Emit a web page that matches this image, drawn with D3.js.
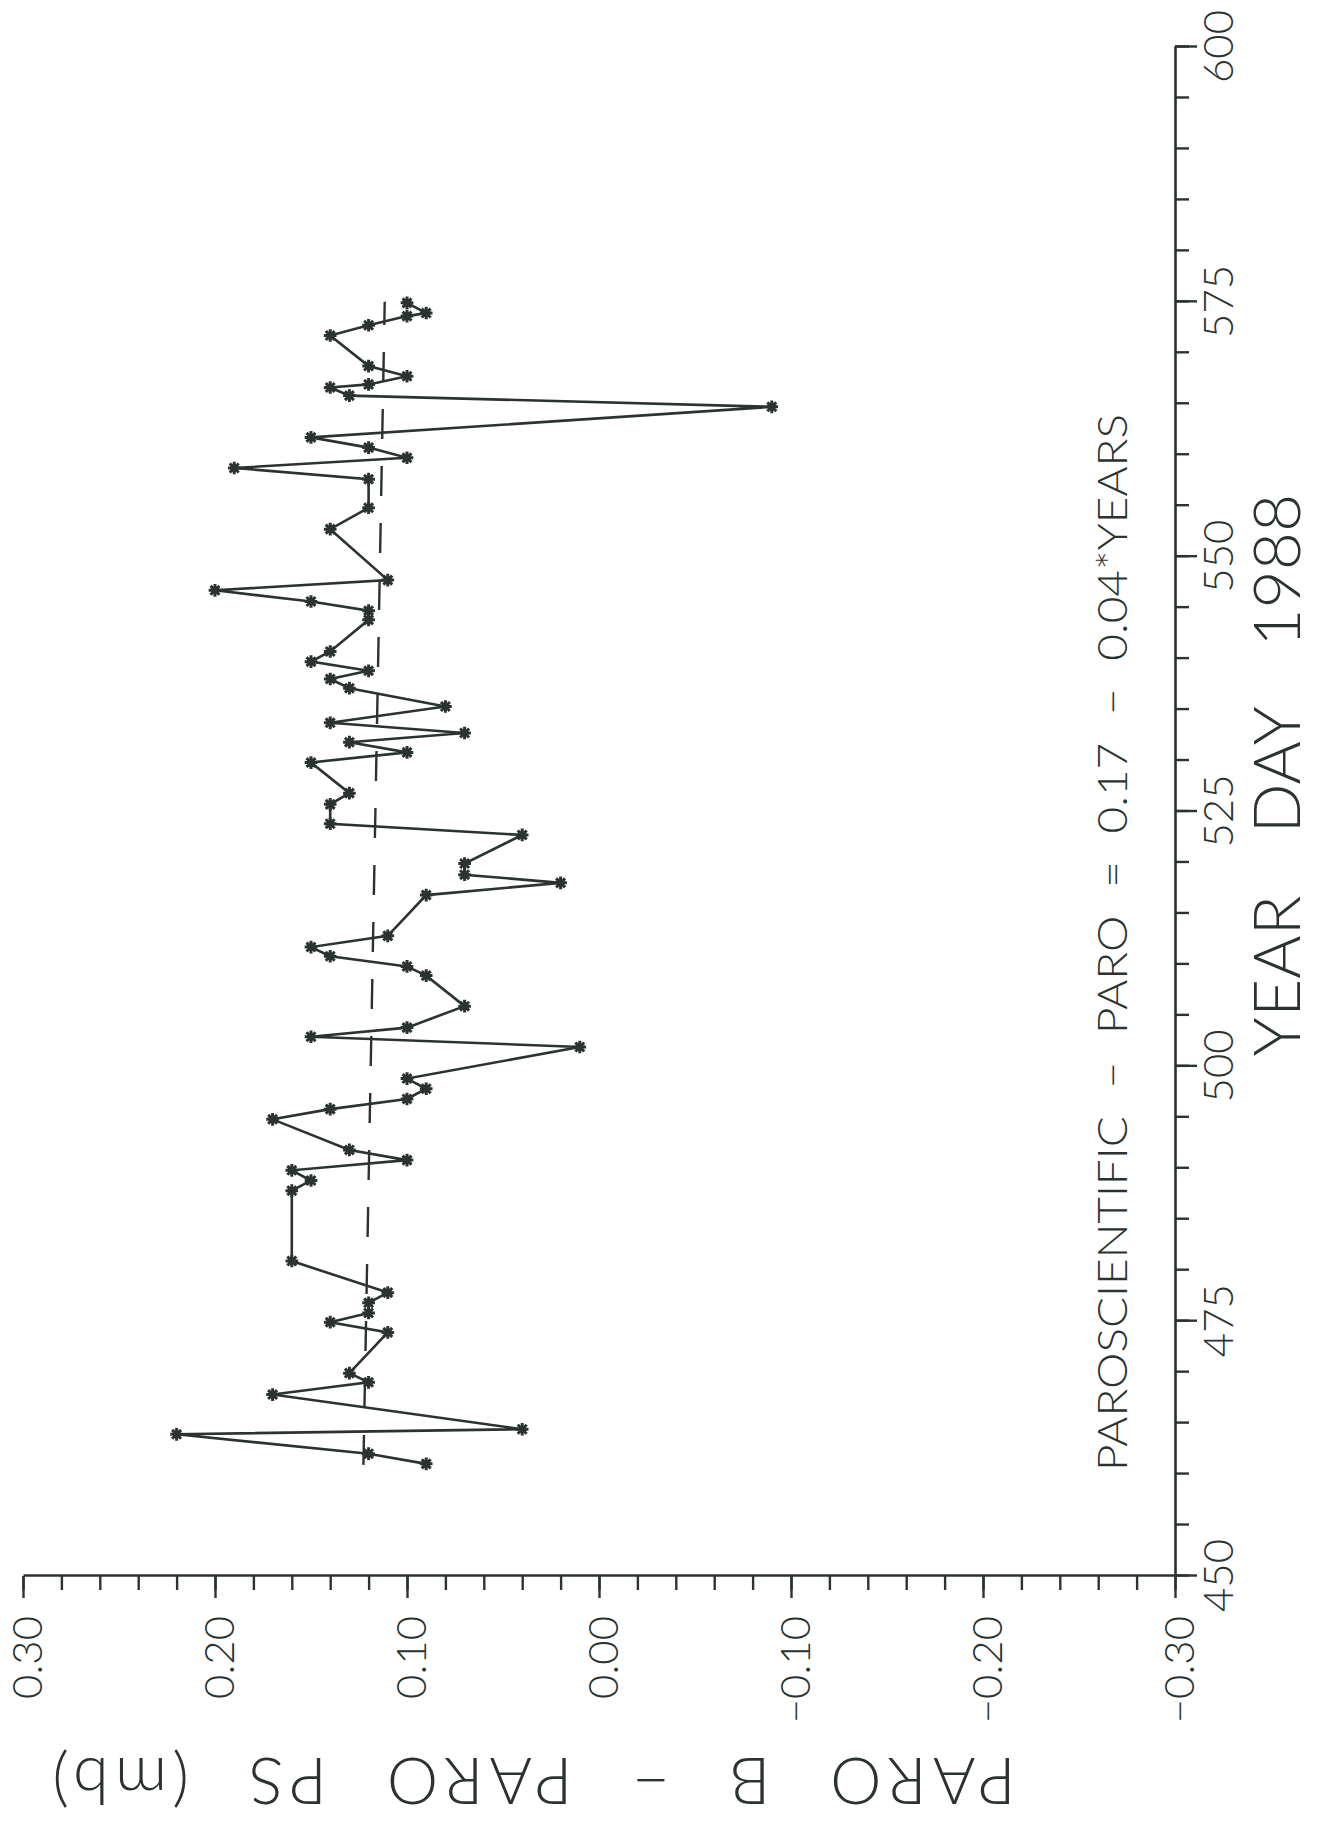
<!DOCTYPE html>
<html>
<head>
<meta charset="utf-8">
<script src="https://cdn.jsdelivr.net/npm/d3@7"></script>
<style>
  html, body { margin: 0; padding: 0; background: #ffffff; }
  svg { display: block; }
  text { font-family: Lato, "DejaVu Sans", sans-serif; font-weight: 300; fill: #2b3331; }
</style>
</head>
<body>
<svg id="chart" width="1323" height="1824"></svg>
<script>
// ---- data ----
const yearDays = [
  461.0, 462.0, 463.9, 464.4, 467.8, 469.0, 469.9, 473.9, 474.9, 475.8,
  476.8, 477.8, 480.9, 487.8, 488.8, 489.8, 490.8, 491.8, 494.8, 495.8,
  496.8, 497.8, 498.8, 501.9, 502.9, 503.8, 505.9, 508.9, 509.8, 510.8,
  511.7, 512.8, 516.8, 518.0, 518.8, 519.9, 522.7, 523.8, 525.7, 526.8,
  529.8, 530.8, 531.8, 532.7, 533.7, 535.3, 537.1, 538.0, 538.8, 539.7,
  540.7, 543.8, 544.7, 545.6, 546.7, 547.7, 552.7, 554.8, 557.6, 558.7,
  559.7, 560.7, 561.7, 564.7, 565.8, 566.6, 566.9, 567.7, 568.7, 571.7,
  572.7, 573.6, 573.9, 574.9
];
const paroDiff = [
  0.09, 0.12, 0.22, 0.04, 0.17, 0.12, 0.13, 0.11, 0.14, 0.12,
  0.12, 0.11, 0.16, 0.16, 0.15, 0.16, 0.10, 0.13, 0.17, 0.14,
  0.10, 0.09, 0.10, 0.01, 0.15, 0.10, 0.07, 0.09, 0.10, 0.14,
  0.15, 0.11, 0.09, 0.02, 0.07, 0.07, 0.04, 0.14, 0.14, 0.13,
  0.15, 0.10, 0.13, 0.07, 0.14, 0.08, 0.13, 0.14, 0.12, 0.15,
  0.14, 0.12, 0.12, 0.15, 0.20, 0.11, 0.14, 0.12, 0.12, 0.19,
  0.10, 0.12, 0.15, -0.09, 0.13, 0.14, 0.12, 0.10, 0.12, 0.14,
  0.12, 0.10, 0.09, 0.10
];
// fitted line PAROSCIENTIFIC - PARO = 0.17 - 0.04*YEARS (end points)
const fitDays = [460.9, 575.0];
const fitValues = [0.1227, 0.1116];

const dayTickValues = [450, 475, 500, 525, 550, 575, 600];
const dayTickLabels = ["450", "475", "500", "525", "550", "575", "600"];
const valueTickValues = [-0.30, -0.20, -0.10, 0.00, 0.10, 0.20, 0.30];
const valueTickLabels = ["\u22120.30", "\u22120.20", "\u22120.10", "0.00", "0.10", "0.20", "0.30"];

const xTitle = "YEAR DAY 1988";
const yTitle = "PARO B \u2212 PARO PS (mb)";
const note = "PAROSCIENTIFIC \u2212 PARO = 0.17 \u2212 0.04*YEARS";

// ---- layout (chart is drawn unrotated, then turned 90° counter-clockwise) ----
const INK = "#2b3331";
const tx = 23, ty = 1576;       // screen position of (day 450, value +0.30)
const L = 1529;                  // length of day axis
const H = 1152;                  // length of value axis

const svg = d3.select("#chart");
svg.append("rect").attr("width", 1323).attr("height", 1824).attr("fill", "#ffffff");

const g = svg.append("g").attr("transform", `translate(${tx},${ty}) rotate(-90)`);

const x = d3.scaleLinear().domain([450, 600]).range([0, L]);
const y = d3.scaleLinear().domain([-0.30, 0.30]).range([H, 0]);

function styleAxis(sel) {
  sel.select(".domain").attr("stroke", INK).attr("stroke-width", 2.6);
  sel.selectAll(".tick line").attr("stroke", INK).attr("stroke-width", 2.4);
  sel.selectAll(".tick text").attr("fill", INK)
    .attr("font-family", 'Lato, "DejaVu Sans", sans-serif')
    .attr("font-weight", 300).attr("font-size", 42);
}

// value axis: minor ticks every 0.02
g.append("g")
  .call(d3.axisLeft(y).tickValues(d3.range(-30, 31, 2).map(d => d / 100)).tickSize(14).tickSizeOuter(0).tickFormat(""))
  .call(s => { s.select(".domain").remove(); s.selectAll(".tick line").attr("stroke", INK).attr("stroke-width", 2.4); });
// value axis: major ticks
g.append("g")
  .call(d3.axisLeft(y).tickValues(valueTickValues).tickSize(22).tickPadding(18).tickSizeOuter(0)
    .tickFormat((d, i) => valueTickLabels[i]))
  .call(styleAxis)
  .call(s => s.selectAll(".tick text").attr("dy", "0.45em"));

// day axis: minor ticks every 5 days
g.append("g").attr("transform", `translate(0,${H})`)
  .call(d3.axisBottom(x).tickValues(d3.range(450, 601, 5)).tickSize(14).tickSizeOuter(0).tickFormat(""))
  .call(s => { s.select(".domain").remove(); s.selectAll(".tick line").attr("stroke", INK).attr("stroke-width", 2.4); });
g.append("g").attr("transform", `translate(0,${H})`)
  .call(d3.axisBottom(x).tickValues(dayTickValues).tickSize(22).tickPadding(6).tickSizeOuter(0)
    .tickFormat((d, i) => dayTickLabels[i]))
  .call(styleAxis);

// fitted dashed line
const fit = fitDays.map((d, i) => ({ day: d, v: fitValues[i] }));
const line = d3.line().x(d => x(d.day)).y(d => y(d.v));
g.append("path").datum(fit)
  .attr("d", line)
  .attr("fill", "none").attr("stroke", INK).attr("stroke-width", 2.4)
  .attr("stroke-dasharray", "30,27");

// data series
const data = yearDays.map((d, i) => ({ day: d, v: paroDiff[i] }));
g.append("path").datum(data)
  .attr("d", line)
  .attr("fill", "none").attr("stroke", INK).attr("stroke-width", 2.6)
  .attr("stroke-linejoin", "miter");

const asterisk8 = {
  draw(ctx, size) {
    const r = Math.sqrt(size) / 2, d = r * Math.SQRT1_2;
    ctx.moveTo(-r, 0); ctx.lineTo(r, 0);
    ctx.moveTo(0, -r); ctx.lineTo(0, r);
    ctx.moveTo(-d, -d); ctx.lineTo(d, d);
    ctx.moveTo(-d, d); ctx.lineTo(d, -d);
  }
};
g.append("g").selectAll("path").data(data).join("path")
  .attr("transform", d => `translate(${x(d.day)},${y(d.v)})`)
  .attr("d", d3.symbol(asterisk8, 160)())
  .attr("fill", "none").attr("stroke", INK).attr("stroke-width", 3);

// annotation
g.append("text")
  .attr("x", 105).attr("y", 1104)
  .attr("font-size", 42)
  .attr("word-spacing", 14)
  .attr("textLength", 1057).attr("lengthAdjust", "spacingAndGlyphs")
  .text(note);

// day axis title
g.append("text")
  .attr("x", 801).attr("y", 1277)
  .attr("text-anchor", "middle")
  .attr("font-size", 66)
  .attr("word-spacing", 44)
  .text(xTitle);

// value axis title (reads upside down on the page)
g.append("text")
  .attr("transform", `translate(-182,508) rotate(-90)`)
  .attr("text-anchor", "middle")
  .attr("font-size", 65)
  .attr("letter-spacing", 6)
  .attr("word-spacing", 30)
  .text(yTitle);
</script>
</body>
</html>
